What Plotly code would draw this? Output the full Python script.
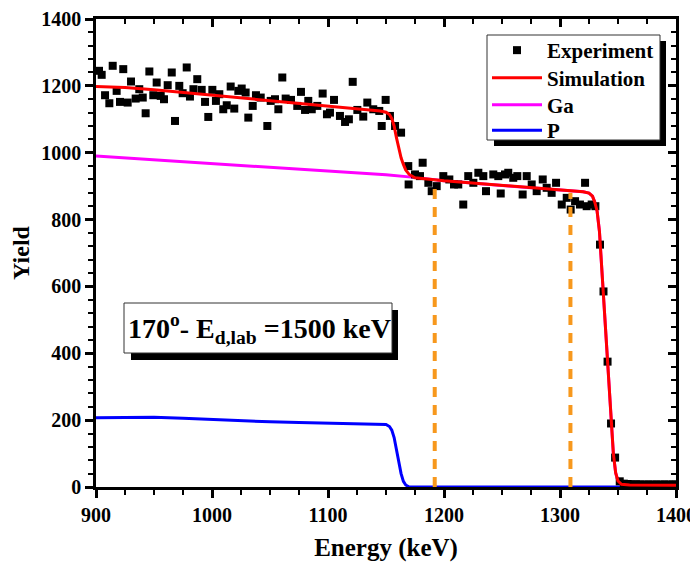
import plotly.graph_objects as go

# ---------------- data ----------------
exp_energy = [902.6, 904.9, 907.8, 911.5, 914.4, 917.8, 920.7, 923.5, 927.3, 930.2,
              934.2, 937.3, 940.3, 942.8, 946.0, 949.4, 952.3, 955.8, 958.6, 961.8,
              965.3, 968.1, 971.8, 974.7, 978.2, 981.0, 984.0, 987.3, 991.1, 994.0,
              996.8, 1000.3, 1003.4, 1006.3, 1009.7, 1012.7, 1016.1, 1019.2, 1022.7, 1025.6,
              1029.0, 1031.3, 1035.1, 1037.9, 1042.0, 1047.7, 1050.6, 1054.3, 1057.2, 1060.6,
              1063.5, 1068.1, 1073.5, 1076.7, 1080.2, 1083.0, 1086.0, 1090.8, 1095.4, 1099.1,
              1101.7, 1105.2, 1110.3, 1114.7, 1118.0, 1121.3, 1125.3, 1130.4, 1133.9, 1139.0,
              1144.2, 1146.3, 1149.7, 1153.4, 1157.8, 1163.0, 1169.2, 1169.5, 1175.0, 1179.3,
              1181.6, 1186.5, 1189.4, 1193.7, 1199.4, 1204.6, 1208.6, 1212.3, 1216.6, 1220.9,
              1225.3, 1229.6, 1233.9, 1236.2, 1242.5, 1246.8, 1248.9, 1252.6, 1255.4, 1259.7,
              1263.2, 1267.8, 1271.3, 1275.6, 1279.9, 1285.1, 1288.5, 1292.8, 1296.6, 1301.5,
              1305.8, 1309.2, 1313.0, 1317.2, 1321.6, 1323.0, 1327.3, 1330.5, 1334.5, 1337.5,
              1341.0, 1344.0, 1347.5, 1351.5, 1355.0, 1358.5, 1362.0, 1365.5, 1369.0, 1372.5,
              1376.0, 1379.5, 1383.0, 1386.5, 1390.0, 1393.5, 1397.0, 1400.0]
exp_yield = [1245, 1233, 1172, 1148, 1260, 1185, 1152, 1250, 1150, 1213,
             1162, 1190, 1165, 1118, 1243, 1172, 1210, 1170, 1160, 1202,
             1240, 1095, 1200, 1178, 1255, 1168, 1190, 1220, 1188, 1152,
             1107, 1188, 1155, 1175, 1130, 1142, 1198, 1132, 1185, 1192,
             1180, 1105, 1140, 1172, 1165, 1080, 1155, 1160, 1130, 1225,
             1162, 1158, 1140, 1182, 1128, 1155, 1130, 1140, 1177, 1115,
             1120, 1158, 1110, 1092, 1100, 1212, 1128, 1108, 1150, 1130,
             1125, 1080, 1158, 1110, 1080, 1060, 960, 905, 935, 930,
             970, 910, 885, 900, 930, 920, 905, 905, 845, 930,
             910, 940, 930, 885, 935, 930, 878, 935, 940, 925,
             930, 875, 930, 905, 885, 920, 895, 880, 910, 845,
             865, 830, 855, 845, 910, 840, 845, 840, 725, 585,
             375, 190, 88, 17, 10, 9, 8, 8, 8, 7,
             8, 7, 8, 7, 8, 7, 8, 7]

sim_energy = [900, 925, 950, 975, 1000, 1025, 1050, 1075, 1100, 1125, 1145, 1150, 1153,
              1155, 1157, 1159, 1161, 1163, 1165, 1167, 1170, 1175, 1200, 1250, 1300,
              1320, 1325, 1328, 1330, 1332, 1334, 1336, 1338, 1340, 1342, 1344, 1346,
              1348, 1350, 1353, 1360, 1400]
sim_yield = [1198, 1195, 1188, 1180, 1172, 1164, 1155, 1147, 1139, 1131, 1125, 1121, 1114,
             1102, 1080, 1045, 1010, 985, 965, 948, 935, 925, 916, 902, 889,
             883, 879, 870, 852, 825, 765, 655, 545, 435, 325, 195, 100,
             42, 18, 8, 6, 5]

ga_energy = [900, 950, 1000, 1050, 1100, 1150, 1172, 1200, 1250, 1300, 1320, 1325, 1328,
             1330, 1332, 1334, 1336, 1338, 1340, 1342, 1344, 1346, 1348, 1350, 1353, 1360, 1400]
ga_yield = [990, 979, 968, 957, 946, 934, 927, 916, 902, 889, 883, 879, 870,
            852, 825, 765, 655, 545, 435, 325, 195, 100, 42, 18, 8, 6, 5]

p_energy = [900, 925, 950, 975, 1000, 1025, 1050, 1075, 1100, 1125, 1145, 1150, 1153,
            1155, 1157, 1159, 1161, 1163, 1165, 1167, 1170, 1400]
p_yield = [207, 209, 209, 206, 202, 198, 195, 193, 191, 190, 189, 187, 181,
           170, 148, 112, 72, 40, 17, 6, 0, 0]

marker_energy = [1192, 1309]
marker_top = [916, 880]

x_range = [900, 1400]
y_range = [0, 1400]
x_ticks = [900, 1000, 1100, 1200, 1300, 1400]
y_ticks = [0, 200, 400, 600, 800, 1000, 1200, 1400]

FONT = "Liberation Serif"

# page pixel geometry (browser body has an 8px margin)
BODY = 8
PLOT_L, PLOT_R, PLOT_T, PLOT_B = 96, 676, 19, 487


def px2paper_x(px):
    return (px - PLOT_L) / (PLOT_R - PLOT_L)


def px2paper_y(py):
    return 1 - (py - PLOT_T) / (PLOT_B - PLOT_T)


fig = go.Figure()

fig.add_trace(go.Scatter(x=ga_energy, y=ga_yield, mode="lines", name="Ga",
                         line=dict(color="#FF00FF", width=3), legend="legend3"))
fig.add_trace(go.Scatter(x=p_energy, y=p_yield, mode="lines", name="P",
                         line=dict(color="#0000FF", width=3), legend="legend4"))
fig.add_trace(go.Scatter(x=exp_energy, y=exp_yield, mode="markers", name="Experiment",
                         marker=dict(symbol="square", size=8, color="black"), legend="legend"))
fig.add_trace(go.Scatter(x=sim_energy, y=sim_yield, mode="lines", name="Simulation",
                         line=dict(color="#FF0000", width=3), legend="legend2"))
for e, t in zip(marker_energy, marker_top):
    fig.add_trace(go.Scatter(x=[e, e], y=[y_range[0], t], mode="lines", showlegend=False,
                             line=dict(color="#F7981D", width=4, dash="10px,8px")))
# dummy trace to activate mirrored axes
fig.add_trace(go.Scatter(x=exp_energy[:1], y=exp_yield[:1], xaxis="x2", yaxis="y2",
                         mode="markers", marker=dict(opacity=0), showlegend=False,
                         hoverinfo="skip"))

tickfont = dict(family=FONT, size=20, color="black", weight="bold")
common = dict(showgrid=False, zeroline=False, showline=True, linecolor="black",
              linewidth=2.5, automargin=False)


def legend_at(center_py):
    return dict(x=px2paper_x(487), y=px2paper_y(center_py - 22), xanchor="left", yanchor="top",
                bgcolor="rgba(0,0,0,0)", borderwidth=0, itemwidth=50,
                font=dict(family=FONT, size=21, color="black", weight="bold"))


fig.update_layout(
    width=698 - BODY, height=562 - BODY,
    margin=dict(l=PLOT_L - BODY, r=698 - PLOT_R, t=PLOT_T - BODY, b=562 - PLOT_B),
    paper_bgcolor="white", plot_bgcolor="white",
    font=dict(family=FONT, color="black"),
    xaxis=dict(range=x_range, tickvals=x_ticks, ticks="outside", ticklen=8, tickwidth=2.5,
               tickcolor="black", tickfont=tickfont,
               minor=dict(dtick=25, ticks="outside", ticklen=5, tickwidth=2, tickcolor="black"),
               title=dict(text="Energy (keV)", font=dict(family=FONT, size=25, weight="bold"),
                          standoff=18),
               **common),
    yaxis=dict(range=y_range, tickvals=y_ticks, ticks="outside", ticklen=8, tickwidth=2.5,
               tickcolor="black", tickfont=tickfont,
               minor=dict(dtick=40, ticks="outside", ticklen=5, tickwidth=2, tickcolor="black"),
               title=dict(text="Yield", font=dict(family=FONT, size=24, weight="bold"),
                          standoff=5),
               **common),
    xaxis2=dict(range=x_range, overlaying="x", side="top", anchor="y2", tickvals=x_ticks,
                ticks="inside", ticklen=8, tickwidth=2.5, tickcolor="black",
                showticklabels=False,
                minor=dict(dtick=25, ticks="inside", ticklen=5, tickwidth=2, tickcolor="black"),
                **common),
    yaxis2=dict(range=y_range, overlaying="y", side="right", anchor="x2", tickvals=y_ticks,
                ticks="inside", ticklen=8, tickwidth=2.5, tickcolor="black",
                showticklabels=False,
                minor=dict(dtick=40, ticks="inside", ticklen=5, tickwidth=2, tickcolor="black"),
                **common),
    legend=legend_at(52),
    legend2=legend_at(79.5),
    legend3=legend_at(106.5),
    legend4=legend_at(132),
    showlegend=True,
)


def rect_px(x0, y0, x1, y1):
    return dict(x0=px2paper_x(x0), x1=px2paper_x(x1), y0=px2paper_y(y0), y1=px2paper_y(y1))


shapes = []
# legend frame + shadow
shapes.append(dict(type="rect", xref="paper", yref="paper", layer="above",
                   fillcolor="black", line=dict(width=0), **rect_px(494, 41, 666, 146)))
shapes.append(dict(type="rect", xref="paper", yref="paper", layer="above",
                   fillcolor="white", line=dict(color="#333333", width=1), **rect_px(487, 35, 660, 140)))
# annotation frame + shadow
shapes.append(dict(type="rect", xref="paper", yref="paper", layer="above",
                   fillcolor="black", line=dict(width=0), **rect_px(131, 310, 398, 360)))
shapes.append(dict(type="rect", xref="paper", yref="paper", layer="above",
                   fillcolor="white", line=dict(color="#333333", width=1), **rect_px(124, 303, 392, 353)))
fig.update_layout(shapes=shapes)

fig.add_annotation(xref="paper", yref="paper", x=px2paper_x(259), y=px2paper_y(328),
                   xanchor="center", yanchor="middle", showarrow=False,
                   text="<b>170<sup>o</sup>- E<sub>d,lab</sub> =1500 keV</b>",
                   font=dict(family=FONT, size=28, color="black"))

fig.write_html("out.html")
